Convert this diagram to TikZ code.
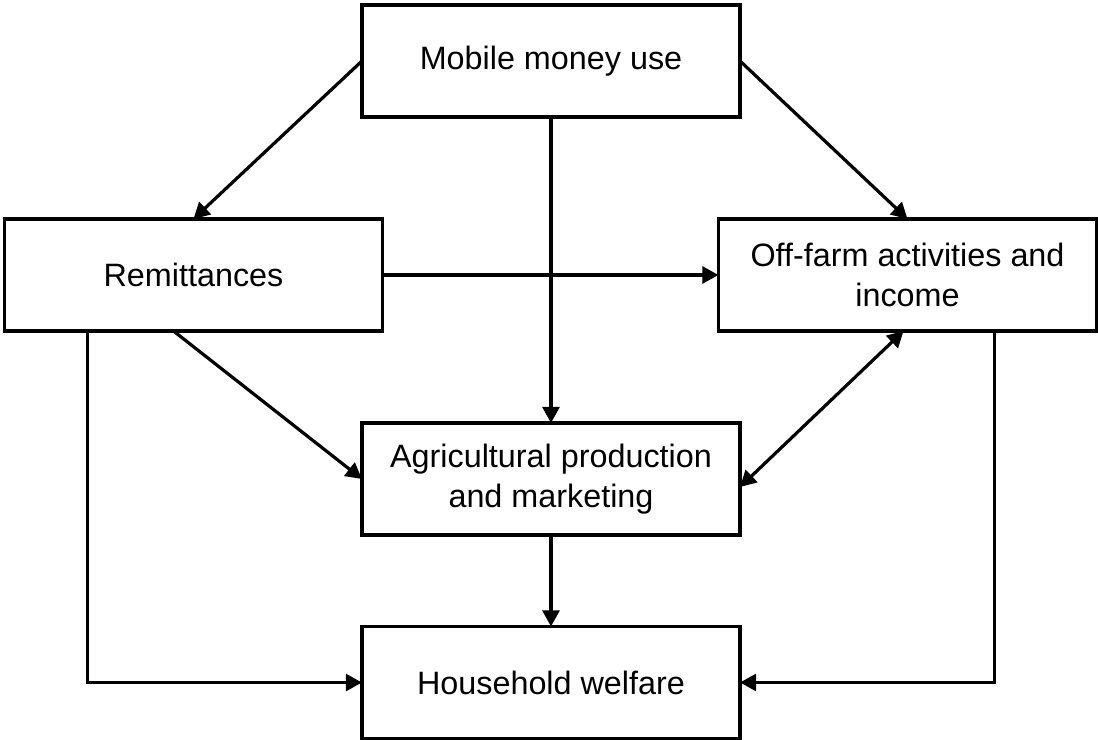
\documentclass[tikz,border=0pt]{standalone}
\usepackage{fontspec}
\setmainfont{Liberation Sans}
\usetikzlibrary{arrows.meta,calc}
\begin{document}
\begin{tikzpicture}[x=0.025cm,y=-0.025cm,
  box/.style={draw=black,line width=0.08cm,fill=white,minimum width=9.45cm,minimum height=2.8cm,inner sep=0pt,outer sep=0pt,align=center,font=\fontsize{23}{28}\selectfont},
  conn/.style={line width=0.08cm,-{Triangle[length=0.4cm,width=0.42cm]}},
  dconn/.style={line width=0.08cm,{Triangle[length=0.4cm,width=0.42cm]}-{Triangle[length=0.4cm,width=0.42cm]}}]
\useasboundingbox (0,0) rectangle (1098,740);
\node[box] (mob) at (551,61) {Mobile money use};
\node[box] (rem) at (193.5,275) {Remittances};
\node[box] (off) at (907.5,275) {Off-farm activities and\\income};
\node[box] (agri) at (551,479) {Agricultural production\\and marketing};
\node[box] (hh) at (551,682.5) {Household welfare};
\coordinate (remA) at ($(rem.south)+(-20,0)$);
\coordinate (remH) at ($(rem.south west)+(83,0)$);
\coordinate (offA) at ($(off.south)+(-4,0)$);
\coordinate (agriE) at ($(agri.east)+(0,8)$);
\coordinate (offH) at ($(off.south east)+(-102,0)$);
\draw[conn] (mob.west) -- (rem.north);
\draw[conn] (mob.east) -- (off.north);
\draw[conn] (mob.south) -- (agri.north);
\draw[conn] (rem.east) -- (off.west);
\draw[conn] (remA) -- (agri.west);
\draw[conn] (remH) |- (hh.west);
\draw[dconn] (offA) -- (agriE);
\draw[conn] (offH) |- (hh.east);
\draw[conn] (agri.south) -- (hh.north);
\end{tikzpicture}
\end{document}
